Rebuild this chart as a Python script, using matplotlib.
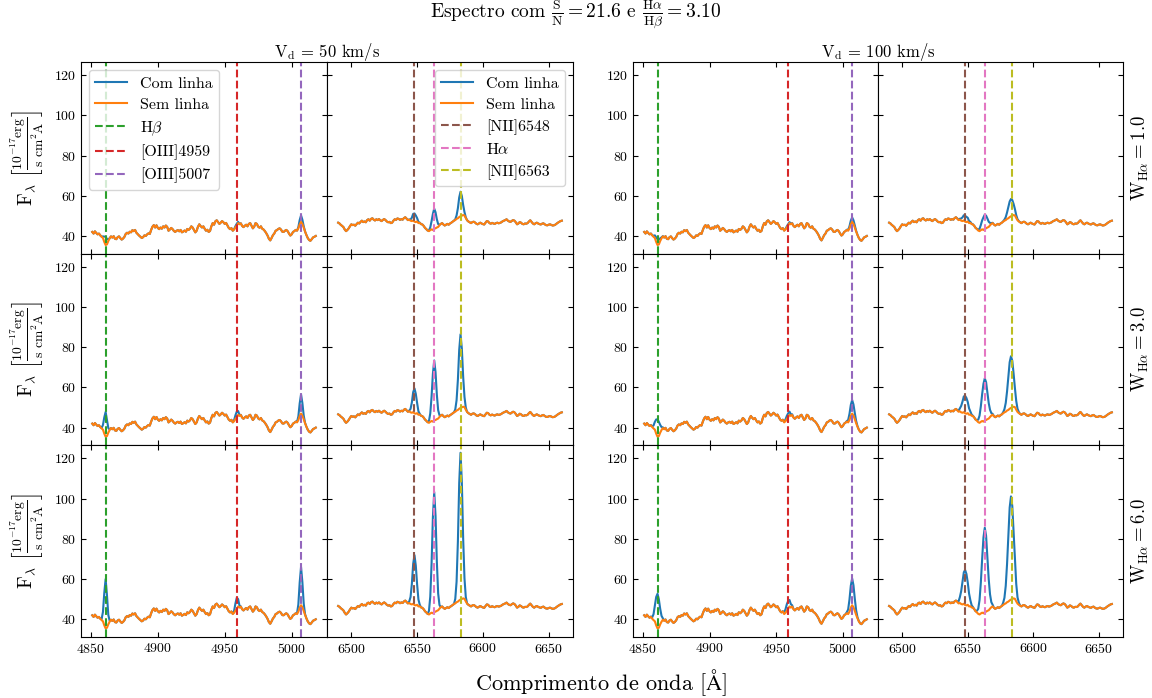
import numpy as np
import matplotlib
matplotlib.use("Agg")
import matplotlib.pyplot as plt
from matplotlib.gridspec import GridSpec

plt.rcParams['font.family'] = 'serif'
plt.rcParams['font.serif'] = ['cmr10', 'DejaVu Serif']
plt.rcParams['mathtext.fontset'] = 'cm'
plt.rcParams['axes.unicode_minus'] = False
plt.rcParams['axes.formatter.use_mathtext'] = True

# ---------------- data ----------------
# continuum (Sem linha), 1 A sampling
blue_start = 4851
cont_blue = [
    42.0, 41.2, 42.3, 41.5, 40.8, 41.2, 40.3, 39.6, 39.0, 37.0,
    35.5, 35.8, 37.5, 38.8, 39.8, 39.2, 39.9, 38.6, 38.4, 39.4,
    39.8, 38.9, 38.2, 38.7, 39.5, 41.0, 41.6, 41.2, 42.1, 41.8,
    42.9, 42.4, 43.0, 41.6, 40.9, 40.2, 39.6, 39.0, 39.4, 40.3,
    40.0, 40.8, 41.3, 41.0, 43.0, 44.6, 45.4, 44.2, 45.3, 44.0,
    43.4, 44.2, 43.6, 44.8, 44.2, 45.2, 44.5, 42.6, 43.2, 44.0,
    43.4, 42.5, 42.0, 42.6, 42.9, 42.3, 43.0, 41.8, 42.2, 42.7,
    42.1, 43.5, 43.0, 43.6, 44.8, 44.2, 43.0, 41.8, 42.6, 44.6,
    45.8, 44.9, 44.2, 44.8, 43.6, 42.6, 43.1, 42.0, 42.5, 44.8,
    46.4, 45.6, 47.3, 47.8, 46.9, 46.0, 46.6, 47.4, 46.8, 46.0,
    46.5, 45.2, 44.0, 43.4, 43.9, 42.6, 43.2, 44.3, 45.2, 46.4,
    45.8, 46.3, 45.0, 44.4, 45.1, 45.6, 44.8, 46.0, 46.4, 45.1,
    43.8, 44.6, 46.4, 46.0, 44.6, 44.1, 44.8, 43.6, 43.2, 42.4,
    41.4, 40.2, 38.6, 37.8, 39.0, 40.4, 41.2, 42.6, 42.9, 43.5,
    43.8, 43.2, 42.1, 42.0, 42.6, 43.0, 42.4, 41.2, 40.2, 40.8,
    42.0, 42.4, 43.0, 42.6, 43.8, 45.8, 47.0, 46.0, 44.2, 42.2,
    40.5, 39.0, 38.0, 37.6, 38.4, 39.3, 39.6, 40.0,
]
red_start = 6490
cont_red = [
    46.6, 46.2, 45.5, 45.0, 44.4, 43.2, 42.4, 43.0, 43.8, 44.9,
    45.8, 45.4, 45.6, 45.1, 45.9, 46.6, 46.2, 47.0, 47.6, 46.9,
    47.2, 46.8, 47.9, 48.3, 47.6, 48.5, 48.8, 48.1, 47.7, 48.3,
    47.9, 48.4, 47.8, 47.4, 48.0, 48.4, 47.9, 47.2, 46.8, 47.0,
    46.4, 46.6, 47.6, 48.3, 48.0, 48.7, 48.5, 48.0, 48.4, 48.1,
    48.9, 49.3, 48.6, 47.9, 48.1, 47.6, 47.4, 47.7, 47.1, 46.9,
    47.2, 46.4, 46.5, 45.9, 45.7, 45.0, 44.0, 43.4, 42.7, 42.4,
    42.9, 43.3, 43.0, 43.6, 43.8, 44.2, 44.5, 45.3, 46.0, 46.4,
    45.7, 45.2, 45.6, 46.0, 45.6, 46.2, 46.6, 47.1, 47.6, 47.9,
    48.5, 48.8, 49.4, 49.8, 50.1, 50.4, 50.2, 48.9, 47.8, 47.2,
    46.8, 46.4, 46.9, 47.1, 46.7, 46.1, 45.8, 46.2, 46.6, 46.2,
    45.9, 45.7, 46.6, 47.4, 47.2, 46.4, 46.1, 46.5, 46.2, 46.0,
    46.4, 46.6, 46.3, 46.5, 46.8, 47.3, 47.6, 47.9, 48.3, 47.6,
    47.2, 47.0, 47.5, 47.9, 47.6, 46.8, 45.8, 46.2, 46.9, 46.6,
    46.0, 45.8, 46.2, 46.1, 46.4, 47.2, 47.8, 47.0, 46.2, 45.8,
    46.3, 46.6, 46.2, 45.9, 45.7, 46.1, 46.3, 45.8, 45.4, 45.3,
    45.6, 45.8, 45.5, 45.2, 45.3, 45.6, 46.1, 46.6, 47.0, 47.4,
    47.6,
]

# emission lines
blue_lines = [4861.3, 4958.9, 5006.8]
blue_names = [r"H$\beta$", "[OIII]4959", "[OIII]5007"]
blue_colors = ["C2", "C3", "C4"]
red_lines = [6548.0, 6562.8, 6583.4]
red_names = ["[NII]6548", r"H$\alpha$", "[NII]6563"]
red_colors = ["C5", "C6", "C8"]

velocities = [50, 100]
widths = [1.0, 3.0, 6.0]

# normalised line profiles (per 1 A pixel, centred)
prof_blue_v50 = [0.00, 0.00, 0.02, 0.19, 0.66, 1.00, 0.66, 0.19, 0.02, 0.00, 0.00]
prof_red_v50 = [0.00, 0.03, 0.14, 0.41, 0.80, 1.00, 0.80, 0.41, 0.14, 0.03, 0.00]
prof_blue_v100 = [0.01, 0.04, 0.17, 0.45, 0.82, 1.00, 0.82, 0.45, 0.17, 0.04, 0.01]
prof_red_v100 = [0.00, 0.02, 0.06, 0.17, 0.37, 0.64, 0.90, 1.00, 0.90, 0.64, 0.37,
                 0.17, 0.06, 0.02, 0.00]

# peak heights above continuum [row W][line]
amp_blue_v50 = [[4.1, 0.9, 3.2], [12.3, 2.8, 9.5], [24.5, 5.5, 19.0]]
amp_red_v50 = [[4.1, 10.0, 12.2], [12.4, 29.8, 36.6], [24.8, 59.7, 73.0]]
amp_blue_v100 = [[2.9, 0.6, 2.2], [8.6, 1.9, 6.7], [17.2, 3.9, 13.3]]
amp_red_v100 = [[2.9, 7.0, 8.6], [8.7, 20.9, 25.7], [17.4, 41.9, 51.3]]

profiles = {50: (prof_blue_v50, prof_red_v50), 100: (prof_blue_v100, prof_red_v100)}
amps = {50: (amp_blue_v50, amp_red_v50), 100: (amp_blue_v100, amp_red_v100)}

wave_blue = blue_start + np.arange(len(cont_blue))
wave_red = red_start + np.arange(len(cont_red))


def with_lines(wave, cont, centres, amp, prof):
    flux = np.array(cont, dtype=float)
    prof = np.array(prof)
    h = len(prof) // 2
    for c, a in zip(centres, amp):
        i = int(np.argmin(np.abs(wave - c)))
        flux[i - h:i + h + 1] += a * prof
    return flux


# ---------------- figure ----------------
fig = plt.figure(figsize=(11.52, 6.98), dpi=100)
gs = GridSpec(3, 5, figure=fig, width_ratios=[246, 246, 60, 245, 245],
              left=81 / 1152, right=1123 / 1152, top=1 - 62 / 698, bottom=1 - 637 / 698,
              wspace=0, hspace=0)

ylab = r"$\mathrm{F_\lambda}\ \left[\frac{10^{-17}\mathrm{erg}}{\mathrm{s\ cm^2 A}}\right]$"

for vi, v in enumerate(velocities):
    cols = [0, 1] if vi == 0 else [3, 4]
    pb, pr = profiles[v]
    ab, ar = amps[v]
    for r in range(3):
        axb = fig.add_subplot(gs[r, cols[0]])
        axr = fig.add_subplot(gs[r, cols[1]])
        fb = with_lines(wave_blue, cont_blue, blue_lines, ab[r], pb)
        fr = with_lines(wave_red, cont_red, red_lines, ar[r], pr)
        axb.plot(wave_blue, fb, color="C0", label="Com linha")
        axb.plot(wave_blue, cont_blue, color="C1", label="Sem linha")
        for c, n, col in zip(blue_lines, blue_names, blue_colors):
            axb.axvline(c, color=col, ls="--", label=n)
        axr.plot(wave_red, fr, color="C0", label="Com linha")
        axr.plot(wave_red, cont_red, color="C1", label="Sem linha")
        for c, n, col in zip(red_lines, red_names, red_colors):
            axr.axvline(c, color=col, ls="--", label=n)

        axb.set_xlim(4842.6, 5026.4)
        axr.set_xlim(6481.5, 6668.5)
        axb.set_xticks([4850, 4900, 4950, 5000])
        axr.set_xticks([6500, 6550, 6600, 6650])
        for ax in (axb, axr):
            ax.set_ylim(31.2, 126.5)
            ax.set_yticks([40, 60, 80, 100, 120])
            ax.tick_params(direction="in", top=True, right=True, labelsize=10)
            if r < 2:
                ax.tick_params(labelbottom=False)
        axr.tick_params(labelleft=False)
        if vi == 0:
            axb.set_ylabel(ylab, fontsize=14, labelpad=6)
        if vi == 0 and r == 0:
            axb.legend(loc="upper left", fontsize=11.5, labelspacing=0.45)
            axr.legend(loc="upper right", fontsize=11.5, labelspacing=0.45)
        if vi == 1:
            axr.text(1.07, 0.5, r"$\mathrm{W_{H\alpha}} = %.1f$" % widths[r],
                     transform=axr.transAxes, rotation=90, va="center", ha="center",
                     fontsize=13.5)

fig.text(0.2839, 1 - 52 / 698, r"$\mathrm{V_d}$ = %d km/s" % velocities[0],
         ha="center", va="center", fontsize=12)
fig.text(0.7622, 1 - 52 / 698, r"$\mathrm{V_d}$ = %d km/s" % velocities[1],
         ha="center", va="center", fontsize=12)
fig.text(0.5, 1 - 15 / 698,
         r"Espectro com $\frac{\mathrm{S}}{\mathrm{N}} = 21.6$ e "
         r"$\frac{\mathrm{H\alpha}}{\mathrm{H\beta}} = 3.10$",
         ha="center", va="center", fontsize=14)
fig.text(0.5215, 1 - 683 / 698, r"Comprimento de onda [$\mathrm{\AA}$]",
         ha="center", va="center", fontsize=16)

fig.savefig("out.png", dpi=100)
